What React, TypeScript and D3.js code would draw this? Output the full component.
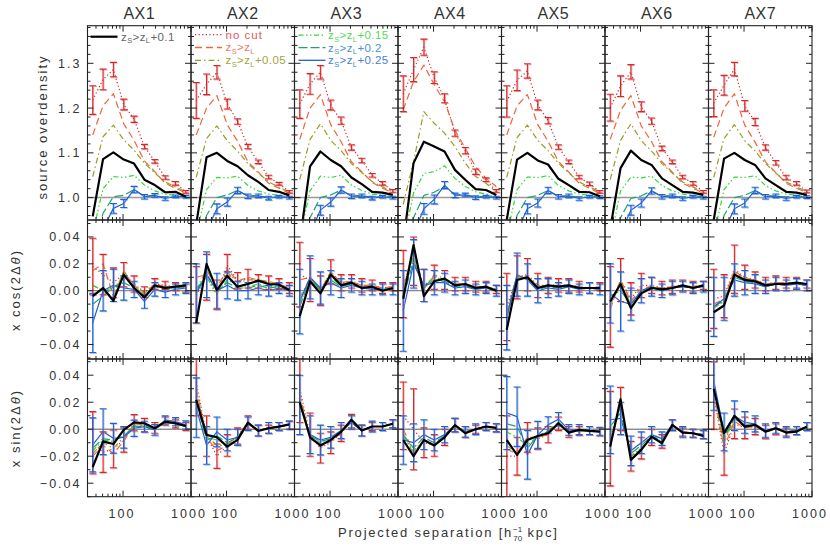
import * as d3 from "d3";

// bin centres of the projected separation [kpc]
const xBins = [35.8, 50.8, 72.1, 102.4, 145.3, 206.4, 293.1, 416.2, 591.0, 839.0];
const panelNames = ["AX1", "AX2", "AX3", "AX4", "AX5", "AX6", "AX7"];

// ---- row 1: source overdensity
const topRed = [
  [1.218, 1.264, 1.286, 1.208, 1.175, 1.114, 1.081, 1.045, 1.032, 1.013],
  [1.217, 1.253, 1.28, 1.209, 1.17, 1.114, 1.08, 1.046, 1.031, 1.013],
  [1.209, 1.254, 1.28, 1.207, 1.172, 1.112, 1.083, 1.05, 1.032, 1.015],
  [1.232, 1.286, 1.336, 1.268, 1.222, 1.144, 1.105, 1.058, 1.04, 1.015],
  [1.215, 1.262, 1.283, 1.207, 1.172, 1.113, 1.08, 1.046, 1.031, 1.013],
  [1.201, 1.249, 1.281, 1.203, 1.171, 1.11, 1.08, 1.046, 1.032, 1.013],
  [1.211, 1.251, 1.287, 1.205, 1.169, 1.112, 1.078, 1.045, 1.032, 1.014],
];
const topRedErr = [
  [0.032, 0.023, 0.016, 0.012, 0.007, 0.005, 0.004, 0.004, 0.004, 0.003],
  [0.04, 0.023, 0.015, 0.011, 0.006, 0.005, 0.004, 0.004, 0.003, 0.003],
  [0.032, 0.023, 0.015, 0.011, 0.008, 0.006, 0.005, 0.004, 0.004, 0.003],
  [0.04, 0.027, 0.018, 0.013, 0.01, 0.007, 0.007, 0.006, 0.004, 0.003],
  [0.035, 0.023, 0.016, 0.011, 0.007, 0.005, 0.004, 0.004, 0.004, 0.003],
  [0.03, 0.023, 0.016, 0.011, 0.007, 0.005, 0.004, 0.004, 0.004, 0.003],
  [0.03, 0.022, 0.015, 0.012, 0.008, 0.006, 0.005, 0.005, 0.004, 0.003],
];
const topOrange = [
  [1.14, 1.205, 1.232, 1.165, 1.128, 1.082, 1.058, 1.032, 1.021, 1.01],
  [1.14, 1.2, 1.228, 1.163, 1.126, 1.08, 1.057, 1.032, 1.021, 1.01],
  [1.13, 1.2, 1.23, 1.163, 1.125, 1.08, 1.058, 1.034, 1.021, 1.011],
  [1.196, 1.259, 1.296, 1.252, 1.214, 1.151, 1.11, 1.069, 1.043, 1.025],
  [1.14, 1.205, 1.23, 1.163, 1.126, 1.081, 1.057, 1.032, 1.021, 1.01],
  [1.13, 1.195, 1.228, 1.16, 1.125, 1.08, 1.057, 1.032, 1.021, 1.01],
  [1.135, 1.2, 1.232, 1.162, 1.124, 1.08, 1.056, 1.032, 1.021, 1.011],
];
const topOlive = [
  [1.047, 1.136, 1.162, 1.129, 1.106, 1.077, 1.055, 1.035, 1.024, 1.013],
  [1.045, 1.132, 1.16, 1.127, 1.104, 1.076, 1.055, 1.035, 1.023, 1.013],
  [1.04, 1.13, 1.165, 1.128, 1.105, 1.076, 1.056, 1.036, 1.024, 1.013],
  [0.985, 1.08, 1.192, 1.166, 1.144, 1.114, 1.077, 1.047, 1.032, 1.013],
  [1.045, 1.134, 1.162, 1.128, 1.105, 1.077, 1.055, 1.035, 1.024, 1.013],
  [1.04, 1.128, 1.165, 1.127, 1.104, 1.076, 1.055, 1.035, 1.024, 1.013],
  [1.045, 1.132, 1.163, 1.127, 1.104, 1.076, 1.055, 1.035, 1.024, 1.013],
];
const topBlack = [
  [0.958, 1.086, 1.101, 1.085, 1.076, 1.04, 1.028, 1.012, 1.013, 1.002],
  [0.94, 1.09, 1.1, 1.082, 1.07, 1.05, 1.035, 1.017, 1.013, 1.005],
  [0.9, 1.07, 1.103, 1.084, 1.07, 1.045, 1.03, 1.013, 1.011, 1.006],
  [0.9, 1.077, 1.125, 1.114, 1.103, 1.062, 1.04, 1.019, 1.017, 1.006],
  [0.95, 1.085, 1.1, 1.083, 1.074, 1.042, 1.028, 1.013, 1.012, 1.003],
  [0.93, 1.066, 1.105, 1.084, 1.073, 1.043, 1.028, 1.013, 1.011, 1.006],
  [0.95, 1.087, 1.1, 1.084, 1.073, 1.043, 1.028, 1.013, 1.011, 1.006],
];
const topGreen = [
  [0.92, 1.02, 1.047, 1.045, 1.05, 1.028, 1.015, 1.008, 1.005, 1.002],
  [0.915, 1.018, 1.045, 1.044, 1.048, 1.027, 1.015, 1.008, 1.005, 1.002],
  [0.91, 1.015, 1.048, 1.045, 1.05, 1.028, 1.016, 1.008, 1.005, 1.002],
  [0.9, 1.01, 1.054, 1.058, 1.071, 1.043, 1.025, 1.013, 1.008, 1.003],
  [0.915, 1.018, 1.046, 1.045, 1.049, 1.027, 1.015, 1.008, 1.005, 1.002],
  [0.905, 1.015, 1.046, 1.044, 1.048, 1.027, 1.015, 1.008, 1.005, 1.002],
  [0.915, 1.018, 1.046, 1.045, 1.049, 1.027, 1.015, 1.008, 1.005, 1.002],
];
const topTeal = [
  [0.88, 0.965, 1.002, 1.005, 1.018, 1.003, 1.005, 1.0, 1.001, 1.0],
  [0.875, 0.96, 1.0, 1.006, 1.016, 1.004, 1.004, 1.0, 1.002, 1.0],
  [0.87, 0.955, 1.0, 1.006, 1.017, 1.004, 1.004, 1.001, 1.001, 1.0],
  [0.87, 0.955, 1.005, 1.012, 1.025, 1.008, 1.006, 1.002, 1.002, 1.0],
  [0.875, 0.96, 1.0, 1.005, 1.016, 1.003, 1.004, 1.0, 1.001, 1.0],
  [0.865, 0.955, 0.998, 1.004, 1.015, 1.003, 1.004, 1.0, 1.001, 1.0],
  [0.875, 0.96, 1.0, 1.005, 1.016, 1.003, 1.004, 1.0, 1.001, 1.0],
];
const topBlue = [
  [0.85, 0.93, 0.976, 0.987, 1.018, 1.002, 1.005, 0.998, 1.003, 1.002],
  [0.85, 0.925, 0.975, 0.99, 1.016, 1.003, 1.004, 0.999, 1.002, 1.0],
  [0.84, 0.92, 0.972, 0.99, 1.017, 1.003, 1.004, 0.999, 1.002, 1.0],
  [0.84, 0.92, 0.975, 0.996, 1.028, 1.005, 1.006, 1.0, 1.002, 1.0],
  [0.85, 0.925, 0.975, 0.988, 1.016, 1.002, 1.004, 0.998, 1.002, 1.001],
  [0.84, 0.92, 0.972, 0.988, 1.015, 1.002, 1.004, 0.998, 1.002, 1.0],
  [0.85, 0.925, 0.975, 0.988, 1.016, 1.002, 1.004, 0.998, 1.002, 1.001],
];
const topBlueErr = [
  [0.02, 0.015, 0.011, 0.009, 0.007, 0.005, 0.004, 0.004, 0.003, 0.003],
  [0.02, 0.015, 0.011, 0.009, 0.007, 0.005, 0.004, 0.004, 0.003, 0.003],
  [0.02, 0.015, 0.011, 0.009, 0.007, 0.005, 0.004, 0.004, 0.003, 0.003],
  [0.022, 0.016, 0.012, 0.01, 0.008, 0.005, 0.004, 0.004, 0.003, 0.003],
  [0.02, 0.015, 0.011, 0.009, 0.007, 0.005, 0.004, 0.004, 0.003, 0.003],
  [0.02, 0.015, 0.011, 0.009, 0.007, 0.005, 0.004, 0.004, 0.003, 0.003],
  [0.02, 0.015, 0.011, 0.009, 0.007, 0.005, 0.004, 0.004, 0.003, 0.003],
];

// ---- row 2: x cos(2 dtheta)
const cosRed = [
  [0.018, 0.012, 0.006, 0.012, 0.005, -0.001, 0.005, 0.004, 0.003, 0.002],
  [-0.003, 0.01, -0.003, 0.019, 0.0075, 0.009, 0.007, 0.006, 0.005, 0.002],
  [0.012, 0.008, 0.0, 0.014, 0.006, 0.007, 0.004, 0.004, 0.002, 0.003],
  [0.005, 0.022, 0.004, 0.01, 0.008, 0.005, 0.005, 0.003, 0.003, 0.001],
  [-0.012, 0.01, 0.012, 0.004, 0.004, 0.004, 0.004, 0.003, 0.002, 0.003],
  [-0.012, 0.008, -0.006, 0.004, 0.004, 0.002, 0.003, 0.004, 0.003, 0.004],
  [-0.006, -0.004, 0.016, 0.01, 0.008, 0.005, 0.006, 0.006, 0.006, 0.005],
];
const cosRedErr = [
  [0.021, 0.015, 0.011, 0.009, 0.006, 0.004, 0.004, 0.003, 0.003, 0.003],
  [0.021, 0.017, 0.011, 0.008, 0.006, 0.007, 0.005, 0.005, 0.004, 0.004],
  [0.024, 0.016, 0.011, 0.009, 0.006, 0.005, 0.005, 0.004, 0.004, 0.003],
  [0.025, 0.018, 0.012, 0.009, 0.007, 0.005, 0.005, 0.004, 0.004, 0.003],
  [0.025, 0.016, 0.012, 0.009, 0.006, 0.005, 0.005, 0.004, 0.004, 0.003],
  [0.03, 0.016, 0.012, 0.009, 0.006, 0.005, 0.005, 0.004, 0.004, 0.003],
  [0.022, 0.016, 0.018, 0.009, 0.006, 0.005, 0.005, 0.004, 0.004, 0.003],
];
const cosOrange = [
  [0.015, 0.02, -0.004, 0.014, 0.004, -0.002, 0.005, 0.003, 0.003, 0.003],
  [0.01, 0.012, 0.002, 0.016, 0.007, 0.01, 0.008, 0.007, 0.005, 0.002],
  [0.008, 0.01, 0.0, 0.014, 0.006, 0.007, 0.004, 0.004, 0.002, 0.003],
  [0.004, 0.026, 0.002, 0.011, 0.008, 0.005, 0.005, 0.003, 0.003, 0.001],
  [-0.016, 0.01, 0.011, 0.003, 0.004, 0.004, 0.004, 0.003, 0.002, 0.003],
  [-0.014, 0.008, -0.008, 0.002, 0.003, 0.002, 0.003, 0.004, 0.003, 0.004],
  [-0.01, -0.006, 0.015, 0.009, 0.008, 0.005, 0.006, 0.006, 0.006, 0.005],
];
const cosOlive = [
  [0.004, 0.0, -0.005, 0.015, 0.003, -0.003, 0.004, 0.002, 0.003, 0.003],
  [0.0, 0.016, 0.0, 0.014, 0.006, 0.008, 0.008, 0.006, 0.005, 0.001],
  [-0.005, 0.009, -0.001, 0.013, 0.005, 0.006, 0.003, 0.003, 0.001, 0.002],
  [0.002, 0.03, 0.001, 0.012, 0.009, 0.005, 0.005, 0.003, 0.003, 0.001],
  [-0.02, 0.009, 0.011, 0.003, 0.004, 0.003, 0.004, 0.002, 0.002, 0.002],
  [-0.011, 0.007, -0.01, 0.0, 0.003, 0.001, 0.002, 0.004, 0.002, 0.004],
  [-0.013, -0.008, 0.014, 0.009, 0.008, 0.004, 0.005, 0.005, 0.006, 0.005],
];
const cosBlack = [
  [-0.004, 0.002, -0.0075, 0.012, 0.002, -0.005, 0.004, 0.002, 0.003, 0.004],
  [-0.024, 0.02, 0.0005, 0.011, 0.003, 0.005, 0.0075, 0.005, 0.0045, 0.0005],
  [-0.019, 0.007, -0.002, 0.012, 0.004, 0.006, 0.002, 0.003, 0.0, 0.002],
  [-0.006, 0.034, -0.004, 0.007, 0.009, 0.004, 0.005, 0.002, 0.003, 0.0],
  [-0.029, 0.008, 0.01, 0.002, 0.004, 0.003, 0.004, 0.002, 0.002, 0.002],
  [-0.008, 0.005, -0.013, -0.002, 0.002, 0.001, 0.002, 0.004, 0.002, 0.004],
  [-0.016, -0.011, 0.012, 0.008, 0.007, 0.004, 0.005, 0.005, 0.006, 0.005],
];
const cosGreen = [
  [0.004, 0.0, 0.002, 0.01, 0.003, -0.002, 0.004, 0.002, 0.002, 0.003],
  [0.002, 0.01, -0.002, 0.008, 0.004, 0.003, 0.005, 0.003, 0.003, 0.001],
  [-0.01, 0.008, 0.0, 0.01, 0.004, 0.005, 0.002, 0.002, 0.001, 0.002],
  [-0.002, 0.025, 0.002, 0.01, 0.008, 0.004, 0.004, 0.002, 0.003, 0.001],
  [-0.018, 0.01, 0.009, 0.002, 0.003, 0.003, 0.003, 0.002, 0.002, 0.002],
  [-0.006, 0.004, -0.01, -0.001, 0.002, 0.001, 0.002, 0.003, 0.002, 0.003],
  [-0.012, -0.008, 0.011, 0.007, 0.006, 0.004, 0.005, 0.005, 0.005, 0.004],
];
const cosTeal = [
  [-0.01, -0.004, 0.003, 0.006, 0.002, -0.004, 0.003, 0.001, 0.002, 0.003],
  [0.0, 0.012, 0.0, 0.006, 0.002, 0.002, 0.004, 0.002, 0.003, 0.0],
  [-0.012, 0.009, 0.001, 0.008, 0.003, 0.005, 0.002, 0.002, 0.001, 0.001],
  [-0.005, 0.022, 0.003, 0.008, 0.007, 0.003, 0.004, 0.002, 0.002, 0.0],
  [-0.02, 0.011, 0.009, 0.001, 0.003, 0.002, 0.003, 0.002, 0.002, 0.001],
  [-0.004, 0.0, -0.01, -0.001, 0.002, 0.0, 0.002, 0.003, 0.002, 0.003],
  [-0.012, -0.007, 0.01, 0.007, 0.006, 0.003, 0.005, 0.004, 0.005, 0.004],
];
const cosBlue = [
  [-0.024, 0.0, 0.004, 0.002, 0.001, -0.008, 0.001, -0.001, 0.001, 0.002],
  [-0.002, 0.012, 0.0, 0.004, 0.0, 0.0, 0.002, 0.0, 0.002, 0.0],
  [-0.008, 0.01, 0.002, 0.006, 0.002, 0.004, 0.002, 0.001, 0.001, 0.001],
  [-0.015, 0.02, 0.004, 0.006, 0.006, 0.002, 0.003, 0.001, 0.002, 0.0],
  [-0.02, 0.012, 0.008, 0.0, 0.002, 0.001, 0.003, 0.001, 0.002, 0.001],
  [-0.002, -0.008, -0.01, 0.0, 0.003, 0.0, 0.002, 0.003, 0.002, 0.003],
  [-0.012, -0.006, 0.008, 0.006, 0.005, 0.003, 0.005, 0.004, 0.005, 0.004],
];
const cosBlueErr = [
  [0.022, 0.015, 0.012, 0.009, 0.006, 0.005, 0.005, 0.004, 0.004, 0.004],
  [0.022, 0.017, 0.013, 0.01, 0.007, 0.006, 0.005, 0.004, 0.004, 0.004],
  [0.024, 0.016, 0.012, 0.009, 0.007, 0.005, 0.005, 0.004, 0.004, 0.004],
  [0.03, 0.018, 0.012, 0.009, 0.007, 0.005, 0.005, 0.004, 0.004, 0.004],
  [0.024, 0.016, 0.012, 0.009, 0.007, 0.005, 0.005, 0.004, 0.004, 0.004],
  [0.022, 0.022, 0.012, 0.009, 0.007, 0.005, 0.005, 0.004, 0.004, 0.004],
  [0.022, 0.016, 0.012, 0.009, 0.007, 0.005, 0.005, 0.004, 0.004, 0.004],
];

// ---- row 3: x sin(2 dtheta)
const sinRed = [
  [-0.01, -0.017, -0.0146, -0.008, 0.0048, 0.003, 0.001, 0.006, 0.004, 0.002],
  [0.035, -0.005, -0.02, -0.012, -0.005, 0.005, -0.001, 0.0, 0.002, 0.003],
  [0.03, -0.004, -0.014, -0.01, -0.003, 0.006, -0.001, 0.002, 0.002, 0.004],
  [0.01, 0.0, -0.01, -0.012, -0.006, 0.003, -0.002, 0.0, 0.002, 0.001],
  [-0.02, -0.02, -0.006, -0.007, -0.004, 0.004, -0.002, -0.001, -0.001, -0.002],
  [-0.007, 0.015, -0.02, -0.014, -0.006, -0.009, 0.003, -0.002, -0.003, -0.004],
  [0.025, -0.018, 0.004, 0.001, 0.002, -0.002, 0.0, -0.002, -0.001, 0.002],
];
const sinRedErr = [
  [0.023, 0.015, 0.014, 0.009, 0.006, 0.005, 0.004, 0.003, 0.003, 0.003],
  [0.025, 0.015, 0.009, 0.008, 0.006, 0.005, 0.004, 0.003, 0.003, 0.003],
  [0.025, 0.016, 0.011, 0.008, 0.006, 0.005, 0.004, 0.003, 0.003, 0.003],
  [0.025, 0.03, 0.011, 0.008, 0.006, 0.005, 0.004, 0.003, 0.003, 0.003],
  [0.03, 0.014, 0.011, 0.008, 0.006, 0.005, 0.004, 0.003, 0.003, 0.003],
  [0.035, 0.016, 0.011, 0.008, 0.006, 0.005, 0.004, 0.003, 0.003, 0.003],
  [0.025, 0.016, 0.011, 0.008, 0.006, 0.005, 0.004, 0.003, 0.003, 0.003],
];
const sinOrange = [
  [-0.02, -0.012, -0.018, -0.009, 0.004, 0.003, 0.001, 0.005, 0.004, 0.002],
  [0.03, -0.006, -0.016, -0.012, -0.006, 0.005, -0.001, 0.0, 0.002, 0.003],
  [0.026, -0.006, -0.013, -0.009, -0.003, 0.006, -0.001, 0.002, 0.002, 0.004],
  [0.0, -0.017, -0.009, -0.012, -0.006, 0.003, -0.002, 0.0, 0.002, 0.001],
  [-0.015, -0.018, -0.006, -0.006, -0.004, 0.004, -0.002, -0.001, -0.001, -0.002],
  [-0.01, 0.018, -0.02, -0.015, -0.006, -0.01, 0.003, -0.002, -0.003, -0.004],
  [0.028, -0.014, 0.006, 0.001, 0.002, -0.002, 0.0, -0.002, -0.001, 0.002],
];
const sinOlive = [
  [-0.018, -0.01, -0.014, -0.006, 0.003, 0.003, 0.001, 0.005, 0.004, 0.002],
  [0.028, -0.005, -0.012, -0.012, -0.007, 0.005, -0.001, 0.001, 0.002, 0.003],
  [0.024, -0.007, -0.012, -0.008, -0.002, 0.006, -0.001, 0.002, 0.002, 0.004],
  [-0.004, -0.018, -0.008, -0.012, -0.006, 0.003, -0.002, 0.0, 0.002, 0.001],
  [-0.012, -0.018, -0.007, -0.006, -0.003, 0.004, -0.002, -0.001, -0.001, -0.002],
  [-0.011, 0.02, -0.021, -0.015, -0.006, -0.01, 0.003, -0.002, -0.003, -0.004],
  [0.03, -0.01, 0.008, 0.002, 0.003, -0.002, 0.001, -0.002, -0.001, 0.002],
];
const sinBlack = [
  [-0.028, -0.009, -0.011, -0.0005, 0.005, 0.0044, 0.0007, 0.0056, 0.0044, 0.0024],
  [0.0217, -0.0042, -0.006, -0.0129, -0.0079, 0.0049, -0.0013, 0.0007, 0.0019, 0.0037],
  [0.02, -0.006, -0.012, -0.008, -0.002, 0.007, -0.001, 0.002, 0.002, 0.004],
  [-0.008, -0.02, -0.008, -0.012, -0.006, 0.003, -0.003, 0.0, 0.002, 0.001],
  [-0.008, -0.019, -0.008, -0.005, -0.003, 0.0044, -0.0025, -0.0005, -0.0013, -0.0018],
  [-0.0129, 0.0222, -0.0227, -0.0153, -0.0055, -0.0104, 0.0032, -0.0025, -0.003, -0.005],
  [0.03, -0.003, 0.0099, 0.0019, 0.0032, -0.0018, 0.0007, -0.0025, -0.0018, 0.0019],
];
const sinGreen = [
  [-0.016, -0.008, -0.009, -0.005, 0.002, 0.003, 0.0, 0.005, 0.004, 0.002],
  [0.024, -0.006, -0.008, -0.011, -0.006, 0.004, -0.001, 0.001, 0.002, 0.003],
  [0.022, -0.006, -0.01, -0.007, -0.002, 0.006, -0.001, 0.002, 0.002, 0.004],
  [-0.006, -0.016, -0.008, -0.011, -0.005, 0.003, -0.002, 0.0, 0.002, 0.001],
  [-0.002, -0.006, -0.012, -0.005, -0.002, 0.004, -0.002, -0.001, -0.001, -0.002],
  [-0.004, 0.016, -0.02, -0.014, -0.006, -0.009, 0.003, -0.002, -0.003, -0.004],
  [0.032, -0.008, 0.008, 0.003, 0.003, -0.002, 0.001, -0.002, -0.001, 0.002],
];
const sinTeal = [
  [-0.014, -0.007, -0.008, -0.005, 0.002, 0.002, 0.0, 0.005, 0.004, 0.002],
  [0.02, -0.008, -0.005, -0.01, -0.006, 0.004, -0.001, 0.001, 0.002, 0.003],
  [0.02, -0.005, -0.009, -0.007, -0.002, 0.005, -0.001, 0.002, 0.002, 0.004],
  [-0.004, -0.014, -0.006, -0.01, -0.005, 0.003, -0.002, 0.0, 0.002, 0.001],
  [0.004, 0.002, -0.014, -0.005, -0.001, 0.005, -0.001, -0.001, -0.001, -0.002],
  [0.002, 0.012, -0.018, -0.012, -0.005, -0.008, 0.003, -0.002, -0.003, -0.004],
  [0.034, -0.006, 0.008, 0.003, 0.003, -0.002, 0.001, -0.002, -0.001, 0.002],
];
const sinBlue = [
  [-0.0116, -0.0018, -0.0067, -0.006, 0.0007, 0.0019, -0.0005, 0.0069, 0.0056, 0.0032],
  [0.016, -0.012, -0.002, -0.008, -0.006, 0.004, -0.001, 0.001, 0.002, 0.003],
  [0.018, -0.004, -0.008, -0.006, -0.001, 0.005, -0.001, 0.002, 0.002, 0.004],
  [-0.008, -0.01, -0.004, -0.008, -0.004, 0.003, -0.002, 0.0, 0.002, 0.001],
  [0.012, 0.0093, -0.019, -0.0042, 0.0032, 0.0074, -0.0005, -0.0005, -0.001, -0.0015],
  [0.007, 0.008, -0.016, -0.01, -0.004, -0.007, 0.003, -0.002, -0.003, -0.004],
  [0.036, -0.002, 0.01, 0.005, 0.004, -0.001, 0.001, -0.002, -0.001, 0.002],
];
const sinBlueErr = [
  [0.02, 0.017, 0.011, 0.008, 0.006, 0.004, 0.004, 0.003, 0.003, 0.003],
  [0.022, 0.014, 0.011, 0.008, 0.006, 0.005, 0.004, 0.004, 0.003, 0.003],
  [0.022, 0.014, 0.011, 0.008, 0.006, 0.005, 0.004, 0.004, 0.003, 0.003],
  [0.018, 0.014, 0.011, 0.008, 0.006, 0.005, 0.004, 0.004, 0.003, 0.003],
  [0.027, 0.022, 0.018, 0.01, 0.006, 0.005, 0.004, 0.004, 0.003, 0.003],
  [0.025, 0.012, 0.011, 0.008, 0.006, 0.005, 0.004, 0.004, 0.003, 0.003],
  [0.022, 0.014, 0.011, 0.008, 0.006, 0.005, 0.004, 0.004, 0.003, 0.003],
];

// styles for the seven redshift cuts
const styles = {
  red: { color: "#d3292b", dash: "1.2,2.4", width: 1.2 },
  orange: { color: "#f2643a", dash: "7,4", width: 1.2 },
  olive: { color: "#9c9c22", dash: "6,3,1.5,3", width: 1.2 },
  green: { color: "#2fdc2f", dash: "5,2.5,1.5,2.5,1.5,2.5", width: 1.2 },
  teal: { color: "#1fa07a", dash: "9,3", width: 1.2 },
  blue: { color: "#2060d0", dash: "", width: 1.2 },
  black: { color: "#000", dash: "", width: 2.2 },
};

const rows = [
  {
    top: 25.7, bottom: 220, domain: [0.95, 1.384], major: [1.0, 1.1, 1.2, 1.3],
    minorStep: 0.02, ref: 1.0, refColor: "#999", refW: 1.5,
    fmt: (v: number) => v.toFixed(1),
    data: { red: topRed, orange: topOrange, olive: topOlive, green: topGreen, teal: topTeal, blue: topBlue, black: topBlack },
    redErr: topRedErr, blueErr: topBlueErr,
  },
  {
    top: 220, bottom: 359, domain: [-0.0508, 0.0526], major: [-0.04, -0.02, 0, 0.02, 0.04],
    minorStep: 0.01, ref: 0, refColor: "#888", refW: 1.2,
    fmt: (v: number) => (v < 0 ? "\u2212" : "") + Math.abs(v).toFixed(2),
    data: { red: cosRed, orange: cosOrange, olive: cosOlive, green: cosGreen, teal: cosTeal, blue: cosBlue, black: cosBlack },
    redErr: cosRedErr, blueErr: cosBlueErr,
  },
  {
    top: 359, bottom: 496.7, domain: [-0.05, 0.052], major: [-0.04, -0.02, 0, 0.02, 0.04],
    minorStep: 0.01, ref: 0, refColor: "#444", refW: 0.9,
    fmt: (v: number) => (v < 0 ? "\u2212" : "") + Math.abs(v).toFixed(2),
    data: { red: sinRed, orange: sinOrange, olive: sinOlive, green: sinGreen, teal: sinTeal, blue: sinBlue, black: sinBlack },
    redErr: sinRedErr, blueErr: sinBlueErr,
  },
];

const left0 = 87.5;
const panelW = 103.5;
const FONT = "'Liberation Sans', Arial, sans-serif";
const TXT = "#333";
const drawOrder = ["red", "orange", "olive", "green", "teal", "blue"] as const;

function ZLabel({ x, y, suffix, fill }: { x: number; y: number; suffix: string; fill: string }) {
  return (
    <text x={x} y={y} fill={fill} fontSize={11.5} fontFamily={FONT} letterSpacing={0.4}>
      z<tspan dy={2.5} fontSize={7.5}>S</tspan>
      <tspan dy={-2.5}>&gt;z</tspan>
      <tspan dy={2.5} fontSize={7.5}>L</tspan>
      <tspan dy={-2.5}>{suffix}</tspan>
    </text>
  );
}

function Panel({ row, ri, pi }: { row: (typeof rows)[number]; ri: number; pi: number }) {
  const x0 = left0 + pi * panelW;
  const x1 = x0 + panelW;
  const x = d3.scaleLog().domain([30, 1000]).range([x0, x1]);
  const y = d3.scaleLinear().domain(row.domain).range([row.bottom, row.top]);
  const clipId = `clip-${ri}-${pi}`;
  const line = d3
    .line<number>()
    .x((_, i) => x(xBins[i]))
    .y((d) => y(d));

  const minorY: number[] = [];
  for (let v = Math.ceil(row.domain[0] / row.minorStep) * row.minorStep; v <= row.domain[1]; v += row.minorStep) {
    const r = Math.round(v * 1000) / 1000;
    if (!row.major.some((m) => Math.abs(m - r) < 1e-6)) minorY.push(r);
  }
  const majorX = [100, 1000];
  const minorX = [40, 50, 60, 70, 80, 90, 200, 300, 400, 500, 600, 700, 800, 900];

  const errBars = (vals: number[], errs: number[], color: string, light: string) =>
    vals.map((v, i) => {
      const cx = x(xBins[i]);
      const ya = y(v - errs[i]);
      const yb = y(v + errs[i]);
      const p = `M${cx},${ya}V${yb}M${cx - 3.5},${ya}H${cx + 3.5}M${cx - 3.5},${yb}H${cx + 3.5}`;
      return (
        <g key={i}>
          <path d={p} transform="translate(0.8,0.8)" stroke={light} strokeWidth={1.2} fill="none" />
          <path d={p} stroke={color} strokeWidth={1.1} fill="none" />
        </g>
      );
    });

  return (
    <g>
      <defs>
        <clipPath id={clipId}>
          <rect x={x0} y={row.top} width={panelW} height={row.bottom - row.top} />
        </clipPath>
      </defs>
      <g clipPath={`url(#${clipId})`}>
        <line x1={x0} x2={x1} y1={y(row.ref)} y2={y(row.ref)} stroke={row.refColor} strokeWidth={row.refW} />
        {drawOrder.map((k) => {
          const st = styles[k];
          return (
            <path
              key={k}
              d={line(row.data[k][pi]) || ""}
              fill="none"
              stroke={st.color}
              strokeWidth={st.width}
              strokeDasharray={st.dash || undefined}
              strokeLinejoin="round"
            />
          );
        })}
        {errBars(row.data.red[pi], row.redErr[pi], "#d3292b", "rgba(235,120,120,0.6)")}
        {errBars(row.data.blue[pi], row.blueErr[pi], "#2060d0", "rgba(110,160,235,0.6)")}
        <path d={line(row.data.black[pi]) || ""} fill="none" stroke="#000" strokeWidth={2.2} strokeLinejoin="round" />
      </g>
      {/* ticks */}
      <g stroke="#222" strokeWidth={1}>
        {row.major.map((v) => (
          <g key={"my" + v}>
            <line x1={x0} x2={x0 + 6} y1={y(v)} y2={y(v)} />
            <line x1={x1} x2={x1 - 6} y1={y(v)} y2={y(v)} />
          </g>
        ))}
        {minorY.map((v) => (
          <g key={"ny" + v}>
            <line x1={x0} x2={x0 + 3} y1={y(v)} y2={y(v)} />
            <line x1={x1} x2={x1 - 3} y1={y(v)} y2={y(v)} />
          </g>
        ))}
        {majorX.map((v) => (
          <g key={"mx" + v}>
            <line x1={x(v)} x2={x(v)} y1={row.bottom} y2={row.bottom - 6} />
            <line x1={x(v)} x2={x(v)} y1={row.top} y2={row.top + 6} />
          </g>
        ))}
        {minorX.map((v) => (
          <g key={"nx" + v}>
            <line x1={x(v)} x2={x(v)} y1={row.bottom} y2={row.bottom - 3} />
            <line x1={x(v)} x2={x(v)} y1={row.top} y2={row.top + 3} />
          </g>
        ))}
      </g>
      <rect x={x0} y={row.top} width={panelW} height={row.bottom - row.top} fill="none" stroke="#222" strokeWidth={1.1} />
      {pi === 0 &&
        row.major.map((v) => (
          <text key={"ly" + v} x={x0 - 6} y={y(v) + 4.5} textAnchor="end" fontSize={12.5} fontFamily={FONT} fill={TXT} letterSpacing={2}>
            {row.fmt(v)}
          </text>
        ))}
      {ri === 2 &&
        majorX.map((v) => (
          <text key={"lx" + v} x={x(v) + (v === 1000 ? -2 : -1)} y={518} textAnchor="middle" fontSize={12.5} fontFamily={FONT} fill={TXT} letterSpacing={2}>
            {v}
          </text>
        ))}
      {ri === 0 && (
        <text x={(x0 + x1) / 2} y={18.5} textAnchor="middle" fontSize={16} fontFamily={FONT} fill={TXT} letterSpacing={0.5}>
          {panelNames[pi]}
        </text>
      )}
    </g>
  );
}

function LegendLine({ x, y, k, w = 27 }: { x: number; y: number; k: keyof typeof styles; w?: number }) {
  const st = styles[k];
  return (
    <line x1={x} x2={x + w} y1={y} y2={y} stroke={st.color} strokeWidth={k === "black" ? 2.2 : 1.3} strokeDasharray={st.dash || undefined} />
  );
}

export default function App() {
  const ax2 = left0 + panelW;
  const ax3 = left0 + 2 * panelW;
  return (
    <svg width={830} height={553} style={{ position: "absolute", left: 0, top: 0, background: "#fff" }}>
      <rect width={830} height={553} fill="#fff" />
      {rows.map((row, ri) => panelNames.map((_, pi) => <Panel key={`${ri}-${pi}`} row={row} ri={ri} pi={pi} />))}

      {/* legends */}
      <LegendLine x={left0 + 3} y={36.7} k="black" />
      <ZLabel x={left0 + 33.5} y={40.5} suffix="+0.1" fill="#666" />

      <LegendLine x={ax2 + 4} y={34.7} k="red" />
      <text x={ax2 + 34.5} y={38.5} fill="#e25a5a" fontSize={11.5} fontFamily={FONT} letterSpacing={1}>no cut</text>
      <LegendLine x={ax2 + 4} y={47.5} k="orange" />
      <ZLabel x={ax2 + 34.5} y={51.3} suffix="" fill="#ec7a66" />
      <LegendLine x={ax2 + 4} y={60.3} k="olive" />
      <ZLabel x={ax2 + 34.5} y={64.1} suffix="+0.05" fill="#a3a33a" />

      <LegendLine x={ax3 + 4} y={35.2} k="green" />
      <ZLabel x={ax3 + 33.5} y={39} suffix="+0.15" fill="#52dc52" />
      <LegendLine x={ax3 + 4} y={47.7} k="teal" />
      <ZLabel x={ax3 + 33.5} y={51.5} suffix="+0.2" fill="#4d8fd6" />
      <LegendLine x={ax3 + 4} y={60.3} k="blue" />
      <ZLabel x={ax3 + 33.5} y={64.1} suffix="+0.25" fill="#4a7fd8" />

      {/* axis titles */}
      <text transform="translate(47,127) rotate(-90)" textAnchor="middle" fontSize={13} fontFamily={FONT} fill={TXT} letterSpacing={2}>
        source overdensity
      </text>
      <text transform="translate(20,290) rotate(-90)" textAnchor="middle" fontSize={13} fontFamily={FONT} fill={TXT} letterSpacing={2}>
        x cos(2Δ<tspan fontStyle="italic">θ</tspan>)
      </text>
      <text transform="translate(20,428) rotate(-90)" textAnchor="middle" fontSize={13} fontFamily={FONT} fill={TXT} letterSpacing={2}>
        x sin(2Δ<tspan fontStyle="italic">θ</tspan>)
      </text>
      <text x={338} y={537} fontSize={13} fontFamily={FONT} fill={TXT} letterSpacing={1.8}>
        Projected separation [h
        <tspan dy={-5} fontSize={8} letterSpacing={0}>−1</tspan>
        <tspan dx={-9} dy={9} fontSize={8} letterSpacing={0}>70</tspan>
        <tspan dy={-4}> kpc]</tspan>
      </text>
    </svg>
  );
}
